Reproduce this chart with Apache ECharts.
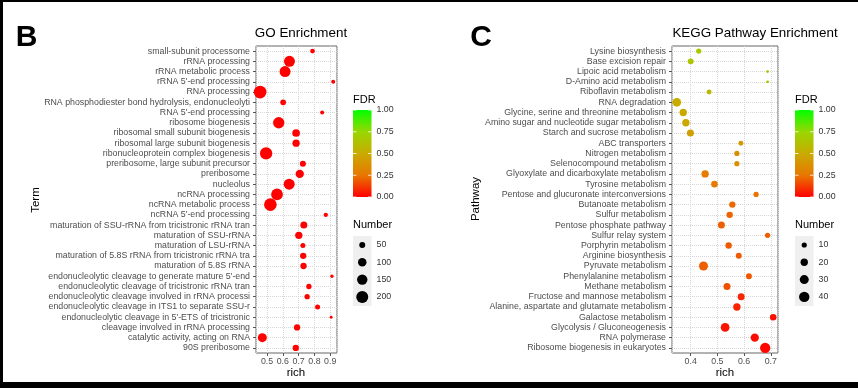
<!DOCTYPE html>
<html><head><meta charset="utf-8">
<script src="https://cdn.jsdelivr.net/npm/echarts@6/dist/echarts.min.js"></script>
<style>html,body{margin:0;padding:0;background:#fff}#c{width:858px;height:388px}</style>
</head><body><div id="c"></div>
<script>
// ---------------- GO enrichment data ----------------
const goTerms = [
  "small-subunit processome",
  "rRNA processing",
  "rRNA metabolic process",
  "rRNA 5'-end processing",
  "RNA processing",
  "RNA phosphodiester bond hydrolysis, endonucleolyti",
  "RNA 5'-end processing",
  "ribosome biogenesis",
  "ribosomal small subunit biogenesis",
  "ribosomal large subunit biogenesis",
  "ribonucleoprotein complex biogenesis",
  "preribosome, large subunit precursor",
  "preribosome",
  "nucleolus",
  "ncRNA processing",
  "ncRNA metabolic process",
  "ncRNA 5'-end processing",
  "maturation of SSU-rRNA from tricistronic rRNA tran",
  "maturation of SSU-rRNA",
  "maturation of LSU-rRNA",
  "maturation of 5.8S rRNA from tricistronic rRNA tra",
  "maturation of 5.8S rRNA",
  "endonucleolytic cleavage to generate mature 5'-end",
  "endonucleolytic cleavage of tricistronic rRNA tran",
  "endonucleolytic cleavage involved in rRNA processi",
  "endonucleolytic cleavage in ITS1 to separate SSU-r",
  "endonucleolytic cleavage in 5'-ETS of tricistronic",
  "cleavage involved in rRNA processing",
  "catalytic activity, acting on RNA",
  "90S preribosome"
];
const goRich = [0.788,0.642,0.614,0.919,0.456,0.602,0.849,0.574,0.684,0.684,
                0.494,0.727,0.707,0.640,0.563,0.521,0.872,0.733,0.701,0.727,
                0.729,0.731,0.911,0.765,0.754,0.820,0.906,0.690,0.470,0.682];
const goNumber = [30,167,167,22,222,45,22,177,82,74,
                  210,50,96,167,189,222,26,68,74,35,
                  55,55,15,39,39,35,12,55,112,55];
const goFDR = [0.002,0.000,0.000,0.004,0.000,0.003,0.004,0.000,0.001,0.001,
               0.000,0.002,0.001,0.000,0.000,0.000,0.004,0.001,0.001,0.002,
               0.001,0.001,0.005,0.003,0.003,0.004,0.006,0.002,0.000,0.002];

// ---------------- KEGG enrichment data ----------------
const keggPathways = [
  "Lysine biosynthesis",
  "Base excision repair",
  "Lipoic acid metabolism",
  "D-Amino acid metabolism",
  "Riboflavin metabolism",
  "RNA degradation",
  "Glycine, serine and threonine metabolism",
  "Amino sugar and nucleotide sugar metabolism",
  "Starch and sucrose metabolism",
  "ABC transporters",
  "Nitrogen metabolism",
  "Selenocompound metabolism",
  "Glyoxylate and dicarboxylate metabolism",
  "Tyrosine metabolism",
  "Pentose and glucuronate interconversions",
  "Butanoate metabolism",
  "Sulfur metabolism",
  "Pentose phosphate pathway",
  "Sulfur relay system",
  "Porphyrin metabolism",
  "Arginine biosynthesis",
  "Pyruvate metabolism",
  "Phenylalanine metabolism",
  "Methane metabolism",
  "Fructose and mannose metabolism",
  "Alanine, aspartate and glutamate metabolism",
  "Galactose metabolism",
  "Glycolysis / Gluconeogenesis",
  "RNA polymerase",
  "Ribosome biogenesis in eukaryotes"
];
const keggRich = [0.430,0.400,0.688,0.688,0.469,0.348,0.372,0.382,0.399,0.588,
                  0.573,0.573,0.454,0.489,0.645,0.556,0.546,0.515,0.688,0.542,
                  0.580,0.448,0.618,0.536,0.589,0.573,0.709,0.529,0.640,0.679];
const keggNumber = [10,13,3,3,9,28,20,20,18,9,
                    10,10,20,16,10,15,15,18,10,15,
                    13,30,13,18,18,20,16,28,25,39];
const keggFDR = [0.66,0.65,0.66,0.66,0.58,0.50,0.49,0.48,0.45,0.42,
                 0.37,0.37,0.27,0.26,0.24,0.22,0.21,0.20,0.20,0.19,
                 0.19,0.20,0.18,0.17,0.08,0.07,0.03,0.04,0.02,0.01];

// legend breaks
const fdrLabels = ["1.00","0.75","0.50","0.25","0.00"];
const goSizeBreaks = [50,100,150,200];
const keggSizeBreaks = [10,20,30,40];

// ---------------- styling helpers ----------------
const FONT = "'Liberation Sans', Arial, sans-serif";
const gradColors = ['#ff0000','#e87700','#c9ab00','#98d700','#00ff00']; // FDR 0 -> 1
const goSize = n => 0.85 * Math.sqrt(n);
const keggSize = n => 1.65 * Math.sqrt(n);

const panels = [
  {left:256, width:81, terms:goTerms, rich:goRich, num:goNumber, fdr:goFDR, size:goSize,
   xmin:0.43, xmax:0.943, split:5},
  {left:672, width:106, terms:keggPathways, rich:keggRich, num:keggNumber, fdr:keggFDR, size:keggSize,
   xmin:0.33, xmax:0.727, split:4}
];
const TOP = 46, HEIGHT = 307;

const grids = panels.map(p => ({left:p.left, top:TOP, width:p.width, height:HEIGHT,
  show:true, borderColor:'#666', borderWidth:1, backgroundColor:'#fff', containLabel:false}));

const xAxes = panels.map((p,i) => ({
  type:'value', gridIndex:i, min:p.xmin, max:p.xmax, splitNumber:p.split,
  axisLine:{show:false},
  axisTick:{show:true, length:3, lineStyle:{color:'#555'}},
  axisLabel:{show:true, fontSize:8.8, color:'#4d4d4d', fontFamily:FONT, margin:4,
    showMinLabel:false, showMaxLabel:false, formatter:v => (+v).toFixed(1)},
  splitLine:{show:true, lineStyle:{color:'#d6d6d6', type:'dotted', width:1}}
}));

const yAxes = panels.map((p,i) => ({
  type:'category', gridIndex:i, data:p.terms, inverse:true,
  axisLine:{show:false},
  axisTick:{show:true, alignWithLabel:true, length:3, lineStyle:{color:'#555'}},
  axisLabel:{fontSize:8.8, color:'#4d4d4d', fontFamily:FONT, margin:6, interval:0},
  splitLine:{show:false}
}));

const series = [];
panels.forEach((p,i) => {
  // horizontal grid lines at each category
  series.push({
    type:'scatter', xAxisIndex:i, yAxisIndex:i, data:[], z:1, silent:true,
    markLine:{silent:true, symbol:['none','none'], label:{show:false}, animation:false, z:1,
      lineStyle:{color:'#d6d6d6', type:'dotted', width:1},
      data:p.terms.map((t,k) => ({yAxis:k}))}
  });
  series.push({
    type:'scatter', xAxisIndex:i, yAxisIndex:i, z:3,
    data:p.terms.map((t,k) => [p.rich[k], t, p.num[k], p.fdr[k]]),
    symbol:'circle',
    symbolSize: (v) => p.size(v[2]),
    itemStyle:{opacity:1}
  });
});

const visualMaps = [1,3].map(si => ({
  type:'continuous', show:false, min:0, max:1, dimension:3, seriesIndex:si,
  inRange:{color:gradColors}
}));

// ---------------- graphic (titles, tags, legends) ----------------
const g = [];
g.push({type:'rect', shape:{x:0,y:0,width:858,height:2}, style:{fill:'#000'}, silent:true});
g.push({type:'rect', shape:{x:0,y:382,width:858,height:6}, style:{fill:'#000'}, silent:true});
g.push({type:'rect', shape:{x:0,y:0,width:3,height:388}, style:{fill:'#000'}, silent:true});

function txt(x,y,text,size,opts={}) {
  return Object.assign({type:'text', x, y, silent:true,
    style:Object.assign({text, fontSize:size, fontFamily:FONT, fill:opts.fill||'#000',
      align:opts.align||'center', verticalAlign:'middle', fontWeight:opts.weight||'normal'}, {})}, opts.extra||{});
}
g.push(txt(26.5,38,'B',30,{weight:'bold'}));
g.push(txt(481,38,'C',30,{weight:'bold'}));
g.push(txt(301,33,'GO Enrichment',13.4));
g.push(txt(755,33,'KEGG Pathway Enrichment',13.4));
g.push(txt(296,373,'rich',11.5));
g.push(txt(725,373,'rich',11.5));
g.push(txt(36,200,'Term',11.5,{extra:{rotation:Math.PI/2}}));
g.push(txt(476,199,'Pathway',11.5,{extra:{rotation:Math.PI/2}}));

const legends = [
  {x:353, breaks:goSizeBreaks, size:goSize},
  {x:795, breaks:keggSizeBreaks, size:keggSize}
];
const barTop = 110, barH = 87, barW = 18.5;
legends.forEach(L => {
  g.push(txt(L.x, 100, 'FDR', 11, {align:'left'}));
  g.push({type:'rect', silent:true, shape:{x:L.x, y:barTop, width:barW, height:barH},
    style:{fill:new echarts.graphic.LinearGradient(0,0,0,1,
      gradColors.slice().reverse().map((c,k,a) => ({offset:k/(a.length-1), color:c})))}});
  fdrLabels.forEach((lab,k) => {
    const yy = barTop + barH * k/(fdrLabels.length-1);
    g.push(txt(L.x + barW + 5, yy, lab, 8.8, {align:'left', fill:'#333'}));
    g.push({type:'line', silent:true, shape:{x1:L.x, y1:yy, x2:L.x+3.5, y2:yy}, style:{stroke:'#fff', lineWidth:0.8}});
    g.push({type:'line', silent:true, shape:{x1:L.x+barW-3.5, y1:yy, x2:L.x+barW, y2:yy}, style:{stroke:'#fff', lineWidth:0.8}});
  });
  g.push(txt(L.x, 225, 'Number', 11, {align:'left'}));
  g.push({type:'rect', silent:true, shape:{x:L.x, y:236, width:barW, height:70}, style:{fill:'#efefef'}});
  L.breaks.forEach((b,k) => {
    const yy = 245 + k*17.3;
    g.push({type:'circle', silent:true, shape:{cx:L.x + barW/2, cy:yy, r:L.size(b)/2}, style:{fill:'#000'}});
    g.push(txt(L.x + barW + 5, yy, String(b), 8.8, {align:'left', fill:'#333'}));
  });
});

const chart = echarts.init(document.getElementById('c'), null, {renderer:'canvas'});
chart.setOption({
  backgroundColor:'#fff',
  animation:false,
  grid:grids, xAxis:xAxes, yAxis:yAxes, series, visualMap:visualMaps, graphic:g
});
</script></body></html>
